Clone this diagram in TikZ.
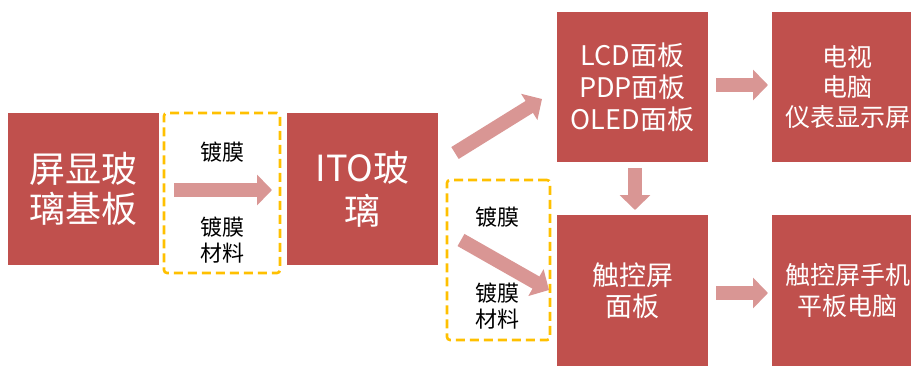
\documentclass[tikz,border=0pt]{standalone}
\usepackage{fontspec}
\setmainfont{Noto Sans CJK SC}
\usetikzlibrary{arrows.meta}
\definecolor{boxred}{RGB}{192,80,77}
\definecolor{arrred}{RGB}{217,150,148}
\definecolor{dashy}{RGB}{255,192,0}
\tikzset{
  redbox/.style={fill=boxred, draw=none, inner sep=0pt, text=white, align=center},
  bigarrow/.style={draw=arrred, line width=14pt, -{Triangle[length=15pt,width=30pt]}},
  dashbox/.style={draw=dashy, line width=2.6pt, dash pattern=on 9pt off 5pt, rounded corners=3pt},
  lbl/.style={text=black, align=center, inner sep=0pt, font=\fontsize{22}{26}\selectfont},
}
\begin{document}
\begin{tikzpicture}[x=1pt,y=-1pt]
\useasboundingbox (0,0) rectangle (911,365);
\clip (0,0) rectangle (911,365);
% boxes
\node[redbox, minimum width=151pt, minimum height=152pt, font=\fontsize{36}{40}\selectfont] (b1) at (83.5,189) {屏显玻\\璃基板};
\node[redbox, minimum width=151pt, minimum height=152pt, font=\fontsize{36}{43}\selectfont] (b2) at (362.5,189) {\raisebox{-4pt}{ITO玻}\\\raisebox{-4pt}{璃}};
\node[redbox, minimum width=151pt, minimum height=150pt, font=\fontsize{27}{32}\selectfont] (b3) at (632.5,87) {LCD面板\\PDP面板\\OLED面板};
\node[redbox, minimum width=151pt, minimum height=150pt, font=\fontsize{25}{30}\selectfont] (b4) at (847.5,87) {电视\\电脑\\仪表显示屏};
\node[redbox, minimum width=151pt, minimum height=152pt, font=\fontsize{27}{31}\selectfont] (b5) at (632.5,291) {\raisebox{-1pt}{触控屏}\\\raisebox{-1pt}{面板}};
\node[redbox, minimum width=151pt, minimum height=152pt, font=\fontsize{25}{31}\selectfont] (b6) at (847.5,291) {\raisebox{-1pt}{触控屏手机}\\\raisebox{-1pt}{平板电脑}};
% dashed groups
\node[dashbox, minimum width=116pt, minimum height=160pt, inner sep=0pt] (d1) at (222,193) {};
\node[dashbox, minimum width=103pt, minimum height=160pt, inner sep=0pt] (d2) at (498.5,260) {};
% labels
\node[lbl] (l1) at (222,152) {镀膜};
\node[lbl] (l2) at (222,240) {镀膜\\材料};
\node[lbl] (l3) at (497,217) {镀膜};
\node[lbl] (l4) at (497,306) {镀膜\\材料};
% arrow endpoints
\coordinate (a1s) at (174,190);
\coordinate (a1e) at (272,190);
\coordinate (a2s) at (455,153);
\coordinate (a2e) at (542,99);
\coordinate (a3s) at (461,240);
\coordinate (a3e) at (549,290);
\coordinate (a4s) at (716,85);
\coordinate (a4e) at (768,85);
\coordinate (a5s) at (635,168);
\coordinate (a5e) at (635,210);
\coordinate (a6s) at (716,293);
\coordinate (a6e) at (768,293);
\draw[bigarrow] (a1s) -- (a1e);
\draw[bigarrow] (a2s) -- (a2e);
\draw[bigarrow] (a3s) -- (a3e);
\draw[bigarrow] (a4s) -- (a4e);
\draw[bigarrow] (a5s) -- (a5e);
\draw[bigarrow] (a6s) -- (a6e);
\end{tikzpicture}
\end{document}
